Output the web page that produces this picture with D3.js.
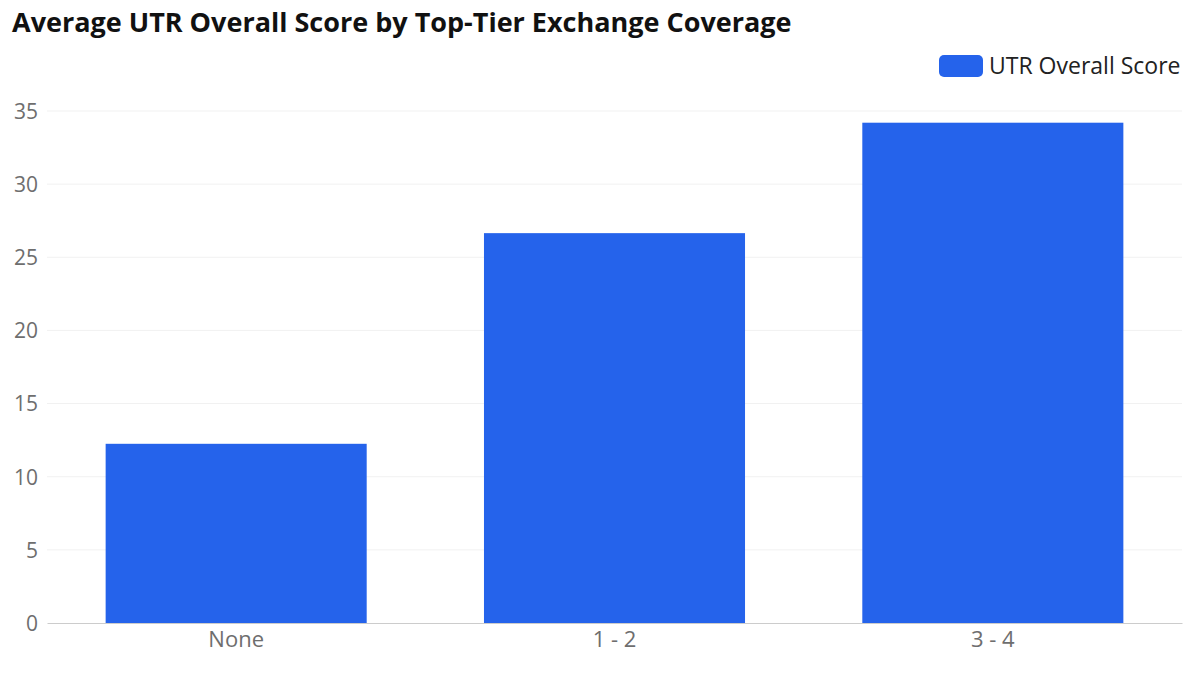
<!DOCTYPE html>
<html>
<head>
<meta charset="utf-8">
<script src="https://cdn.jsdelivr.net/npm/d3@7"></script>
<style>
  body { margin: 0; background: #fff; }
  svg { display: block; font-family: "Open Sans", "Noto Sans", sans-serif; }
</style>
</head>
<body>
<div id="chart"></div>
<script>
// data
var categories = ['None', '1 - 2', '3 - 4']
var scores = [12.25, 26.65, 34.2]
var yTicks = [0, 5, 10, 15, 20, 25, 30, 35]
var seriesName = 'UTR Overall Score'
var chartTitle = 'Average UTR Overall Score by Top-Tier Exchange Coverage'

var width = 1200
var height = 679
var margin = { top: 111, right: 18, bottom: 56, left: 47 }
var barColor = '#2563eb'
var fontFamily = '"Open Sans", "Noto Sans", sans-serif'

var svg = d3.select('#chart').append('svg')
    .attr('width', width)
    .attr('height', height)

var x = d3.scaleBand()
    .domain(categories)
    .range([margin.left, width - margin.right])
    .paddingInner(0.31)
    .paddingOuter(0.155)

var y = d3.scaleLinear()
    .domain([0, 35])
    .range([height - margin.bottom, margin.top])

// gridlines
svg.append('g')
    .selectAll('line')
    .data(yTicks.slice(1))
    .join('line')
    .attr('x1', margin.left)
    .attr('x2', width - margin.right)
    .attr('y1', function(d) { return y(d) })
    .attr('y2', function(d) { return y(d) })
    .attr('stroke', '#f1f1f1')
    .attr('stroke-width', 1)

// y axis labels
var yAxis = svg.append('g')
    .attr('transform', 'translate(' + (margin.left - 9) + ',0)')
    .call(d3.axisLeft(y).tickValues(yTicks).tickSize(0).tickPadding(0))
    .attr('font-family', fontFamily)
yAxis.select('.domain').remove()
yAxis.selectAll('text')
    .attr('fill', '#6e6e6e')
    .style('font-size', '21px')
    .attr('dy', '0.35em')

// bars
svg.append('g')
    .selectAll('rect')
    .data(scores)
    .join('rect')
    .attr('x', function(d, i) { return x(categories[i]) })
    .attr('y', function(d) { return y(d) })
    .attr('width', x.bandwidth())
    .attr('height', function(d) { return y(0) - y(d) })
    .attr('fill', barColor)

// x axis
var xAxis = svg.append('g')
    .attr('transform', 'translate(0,' + y(0) + ')')
    .call(d3.axisBottom(x).tickSize(0).tickPadding(8))
    .attr('font-family', fontFamily)
xAxis.select('.domain')
    .attr('stroke', '#cccccc')
    .attr('stroke-width', 1)
xAxis.selectAll('text')
    .attr('fill', '#6e6e6e')
    .style('font-size', '22px')

// title
svg.append('text')
    .attr('x', 12)
    .attr('y', 32)
    .attr('font-size', 27)
    .attr('font-weight', 'bold')
    .attr('fill', '#111')
    .text(chartTitle)

// legend
var legend = svg.append('g')
    .attr('transform', 'translate(939,55)')
legend.append('rect')
    .attr('width', 44)
    .attr('height', 22)
    .attr('rx', 5)
    .attr('fill', barColor)
legend.append('text')
    .attr('x', 50)
    .attr('y', 19)
    .attr('font-size', 23)
    .attr('fill', '#222')
    .text(seriesName)
</script>
</body>
</html>
